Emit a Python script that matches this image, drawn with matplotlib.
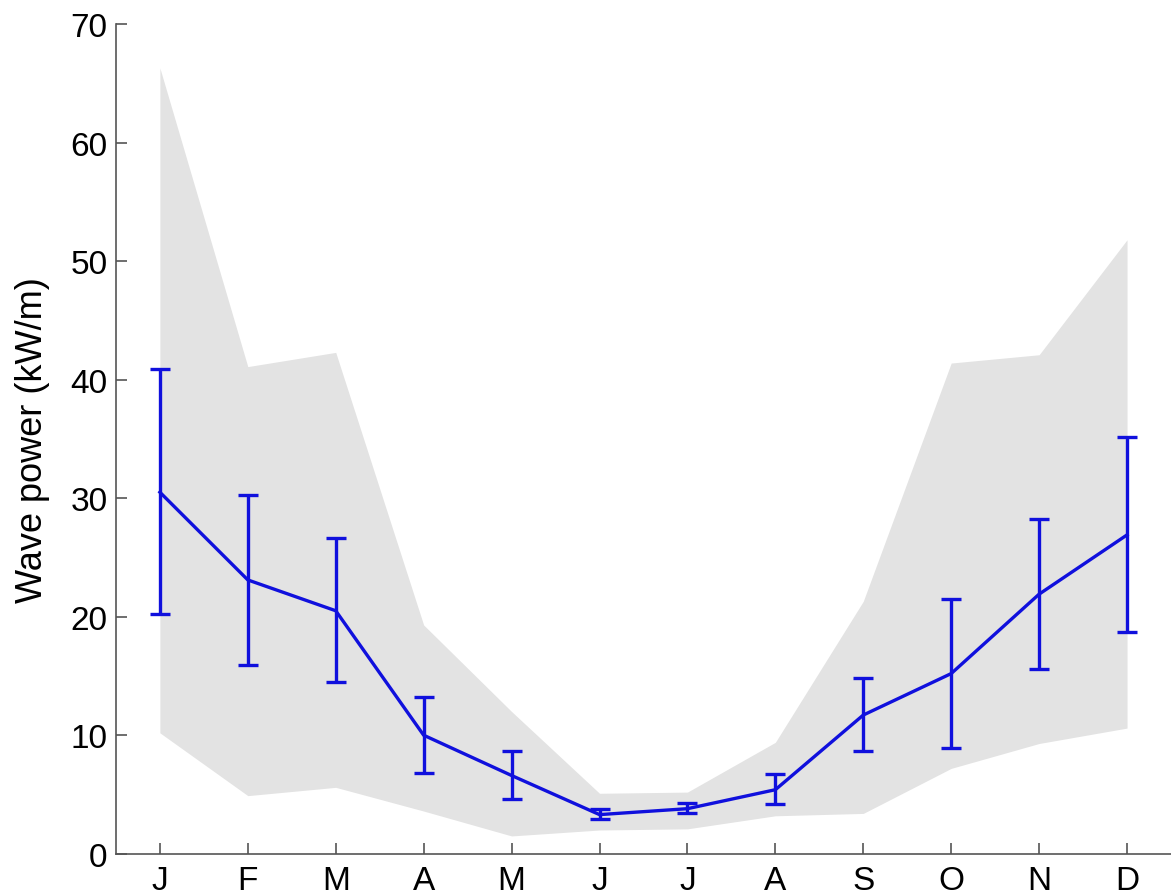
import numpy as np
import matplotlib.pyplot as plt

plt.rcParams['font.family'] = ['Liberation Sans', 'DejaVu Sans']

months = ['J', 'F', 'M', 'A', 'M', 'J', 'J', 'A', 'S', 'O', 'N', 'D']
mean_power = [30.5, 23.1, 20.5, 10.0, 6.6, 3.3, 3.8, 5.4, 11.7, 15.2, 21.9, 26.9]
err_low = [20.2, 15.9, 14.5, 6.8, 4.6, 2.9, 3.4, 4.2, 8.7, 8.9, 15.6, 18.7]
err_high = [40.9, 30.3, 26.6, 13.2, 8.7, 3.8, 4.3, 6.7, 14.8, 21.5, 28.2, 35.2]
range_max = [66.3, 41.1, 42.3, 19.3, 12.0, 5.1, 5.2, 9.4, 21.3, 41.4, 42.1, 51.8]
range_min = [10.2, 4.9, 5.6, 3.6, 1.5, 2.0, 2.1, 3.2, 3.4, 7.2, 9.3, 10.6]

x = np.arange(1, len(months) + 1)
mean_power = np.array(mean_power)
yerr = [mean_power - np.array(err_low), np.array(err_high) - mean_power]

fig = plt.figure(figsize=(11.71, 8.95), dpi=100)
ax = fig.add_axes([0.099, 0.045, 0.901, 0.927])

ax.fill_between(x, range_min, range_max, color='#e3e3e3', linewidth=0)
ax.errorbar(x, mean_power, yerr=yerr, color='#1010dd', linewidth=2.4,
            elinewidth=2.4, capsize=7, capthick=2.4)

ax.set_xlim(0.5, 12.5)
ax.set_ylim(0, 70)
ax.set_xticks(x)
ax.set_xticklabels(months)
ax.set_yticks(np.arange(0, 71, 10))
ax.tick_params(direction='in', length=8, width=1.2, color='#555555',
               labelsize=24, pad=6)
ax.tick_params(axis='x', pad=8)
ax.set_ylabel('Wave power (kW/m)', fontsize=26, labelpad=15)

for s in ['top', 'right']:
    ax.spines[s].set_visible(False)
for s in ['left', 'bottom']:
    ax.spines[s].set_color('#555555')
    ax.spines[s].set_linewidth(1.2)

fig.savefig('out.png', dpi=100)
